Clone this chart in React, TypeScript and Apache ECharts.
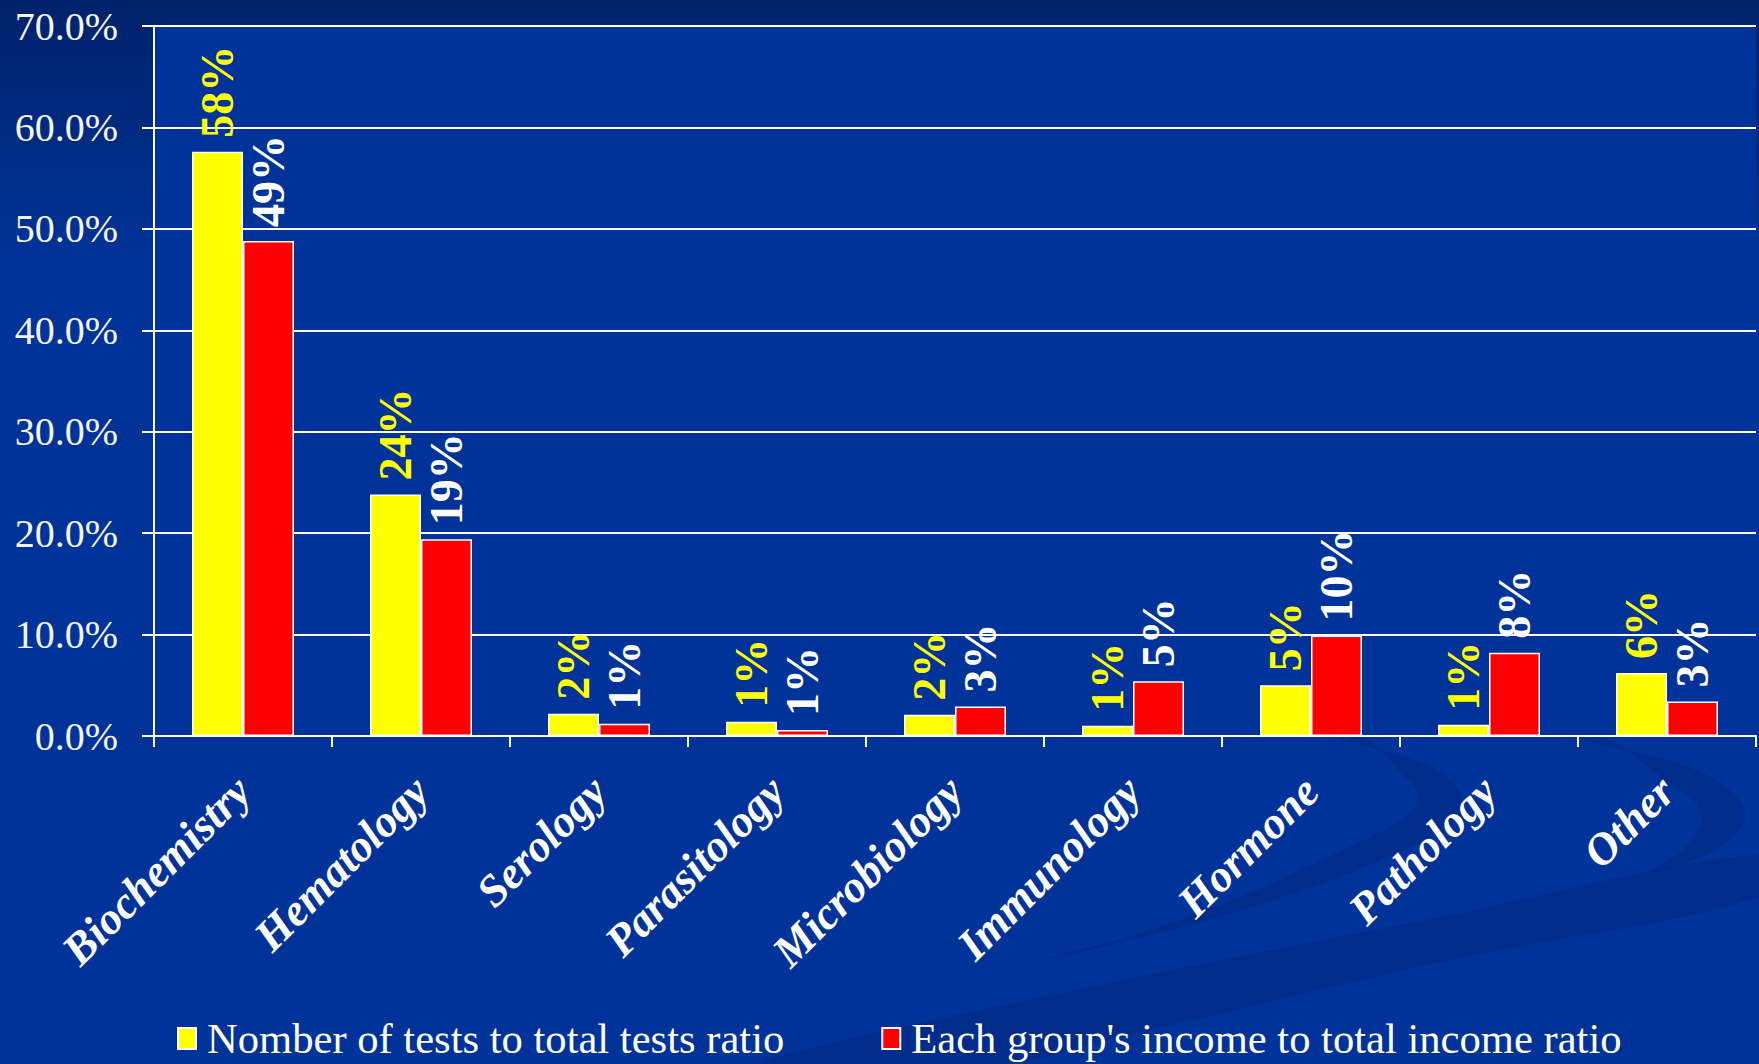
import React, { useEffect, useRef } from "react";
import * as echarts from "echarts";

const categories = [
  "Biochemistry",
  "Hematology",
  "Serology",
  "Parasitology",
  "Microbiology",
  "Immunology",
  "Hormone",
  "Pathology",
  "Other",
];
const testsRatio = [57.6, 23.8, 2.2, 1.4, 2.1, 1.0, 5.0, 1.1, 6.2];
const incomeRatio = [48.8, 19.4, 1.2, 0.6, 2.9, 5.4, 9.9, 8.2, 3.4];
const seriesNames = [
  "Nomber of tests to total tests ratio",
  "Each group's income to total income ratio",
];
const yMin = 0;
const yMax = 70;
const yInterval = 10;

const FONT = "'Liberation Serif', 'Times New Roman', serif";

export default function App() {
  const ref = useRef<HTMLDivElement>(null);
  useEffect(() => {
    if (!ref.current) return;
    const chart = echarts.init(ref.current, undefined, { renderer: "svg" });
    const swoosh = "rgba(0, 22, 95, 0.22)";
    const option: any = {
      animation: false,
      backgroundColor: {
        type: "linear",
        x: 0,
        y: 0,
        x2: 0,
        y2: 1,
        colorStops: [
          { offset: 0, color: "#00226a" },
          { offset: 0.25, color: "#003399" },
          { offset: 1, color: "#003399" },
        ],
      },
      graphic: {
        elements: [
          {
            type: "polygon",
            z: -10,
            silent: true,
            shape: {
              smooth: 0.3,
              points: [
                [760, 1064],
                [1100, 985],
                [1450, 915],
                [1759, 855],
                [1759, 897],
                [1450, 960],
                [1150, 1030],
                [1000, 1064],
              ],
            },
            style: { fill: swoosh },
          },
          {
            type: "polygon",
            z: -10,
            silent: true,
            shape: {
              smooth: 0.4,
              points: [
                [1340, 738],
                [1440, 772],
                [1462, 812],
                [1400, 852],
                [1200, 922],
                [900, 990],
                [1150, 930],
                [1380, 832],
                [1418, 800],
                [1398, 770],
                [1365, 738],
              ],
            },
            style: { fill: swoosh },
          },
          {
            type: "polygon",
            z: -10,
            silent: true,
            shape: {
              smooth: 0.4,
              points: [
                [1577, 738],
                [1700, 772],
                [1745, 812],
                [1720, 847],
                [1650, 872],
                [1692, 840],
                [1700, 810],
                [1660, 776],
                [1605, 738],
              ],
            },
            style: { fill: swoosh },
          },
        ],
      },
      grid: {
        left: 154,
        right: 3,
        top: 26,
        bottom: 328,
        show: true,
        backgroundColor: "#003399",
        borderWidth: 0,
      },
      legend: {
        left: 172,
        top: 1012,
        itemWidth: 18,
        itemHeight: 21,
        itemGap: 97,
        icon: "rect",
        textStyle: {
          color: "#ffffff",
          fontFamily: FONT,
          fontSize: 42.6,
          padding: [0, 0, 0, 6],
        },
        data: seriesNames,
      },
      xAxis: {
        type: "category",
        data: categories,
        axisLine: { show: true, lineStyle: { color: "#ffffff", width: 2 } },
        axisTick: {
          show: true,
          length: 11,
          interval: 0,
          lineStyle: { color: "#ffffff", width: 2 },
        },
        axisLabel: {
          interval: 0,
          rotate: 45,
          margin: 48,
          color: "#ffffff",
          fontFamily: FONT,
          fontSize: 45,
          fontWeight: "bold",
          fontStyle: "italic",
        },
      },
      yAxis: {
        type: "value",
        min: yMin,
        max: yMax,
        interval: yInterval,
        axisLine: { show: true, lineStyle: { color: "#ffffff", width: 2 } },
        axisTick: {
          show: true,
          length: 12,
          lineStyle: { color: "#ffffff", width: 2 },
        },
        splitLine: { show: true, lineStyle: { color: "#ffffff", width: 2 } },
        axisLabel: {
          margin: 36,
          color: "#f4f4f4",
          fontFamily: FONT,
          fontSize: 40,
          formatter: (v: number) => v.toFixed(1) + "%",
        },
      },
      series: [
        {
          name: seriesNames[0],
          type: "bar",
          data: testsRatio,
          barWidth: 51,
          barGap: "0%",
          itemStyle: { color: "#ffff00", borderColor: "#ffffff", borderWidth: 1.5 },
          label: {
            show: true,
            position: "top",
            rotate: 90,
            align: "left",
            verticalAlign: "middle",
            distance: 14,
            color: "#ffff00",
            fontFamily: FONT,
            fontSize: 46,
            fontWeight: "bold",
            formatter: (p: any) => Math.round(p.value) + "%",
          },
        },
        {
          name: seriesNames[1],
          type: "bar",
          data: incomeRatio,
          barWidth: 51,
          barGap: "0%",
          itemStyle: { color: "#ff0000", borderColor: "#ffffff", borderWidth: 1.5 },
          label: {
            show: true,
            position: "top",
            rotate: 90,
            align: "left",
            verticalAlign: "middle",
            distance: 14,
            color: "#ffffff",
            fontFamily: FONT,
            fontSize: 46,
            fontWeight: "bold",
            formatter: (p: any) => Math.round(p.value) + "%",
          },
        },
      ],
    };
    chart.setOption(option);
    return () => chart.dispose();
  }, []);
  return (
    <div
      ref={ref}
      style={{ position: "absolute", left: 0, top: 0, width: 1759, height: 1064 }}
    />
  );
}
